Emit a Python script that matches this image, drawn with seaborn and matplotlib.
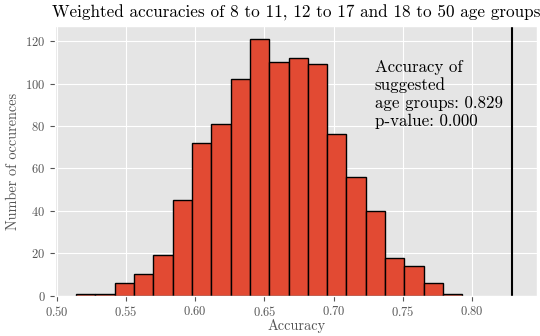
import numpy as np
import pandas as pd
import matplotlib
matplotlib.use("Agg")
import matplotlib.pyplot as plt
import seaborn as sns

# histogram of accuracies from 1000 shuffled groupings
bin_edges = np.linspace(0.5139, 0.7929, 21)
counts = [1, 1, 6, 10, 19, 45, 72, 81, 102, 121,
          110, 112, 109, 76, 56, 40, 18, 14, 6, 1]
observed_accuracy = 0.829
p_value = 0.000

df = pd.DataFrame({"accuracy": (bin_edges[:-1] + bin_edges[1:]) / 2,
                   "count": counts})

plt.style.use("ggplot")
plt.rcParams["font.family"] = ["cmr10", "DejaVu Serif"]
plt.rcParams["mathtext.fontset"] = "cm"
plt.rcParams["axes.formatter.use_mathtext"] = True

fig, ax = plt.subplots(figsize=(5.4, 3.36), dpi=100)

sns.histplot(data=df, x="accuracy", weights="count", bins=list(bin_edges), ax=ax,
             color="#E24A33", alpha=1, edgecolor="black", linewidth=1)
ax.axvline(observed_accuracy, color="black", linewidth=1.5)

ax.text(0.7295, 80, "Accuracy of\nsuggested\nage groups: %.3f\np-value: %.3f"
        % (observed_accuracy, p_value), fontsize=12.2)

ax.set_title("Weighted accuracies of 8 to 11, 12 to 17 and 18 to 50 age groups",
             fontsize=12.3)
ax.set_xlabel("Accuracy", fontsize=10.3, labelpad=0)
ax.set_ylabel("Number of occurences", fontsize=10.3, labelpad=4)
ax.tick_params(labelsize=9)
ax.set_yticks([0, 20, 40, 60, 80, 100, 120])
ax.set_xlim(0.4988, 0.847)

plt.subplots_adjust(left=0.102, right=0.995, top=0.922, bottom=0.12)
plt.savefig("out.png", dpi=100)
